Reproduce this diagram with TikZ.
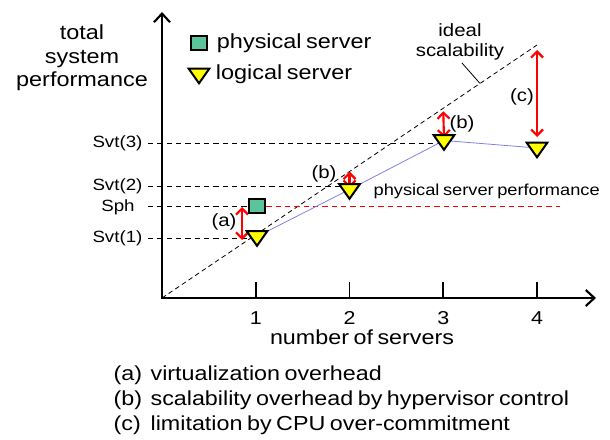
\documentclass[tikz,border=0pt]{standalone}
\usepackage{fontspec}
\setmainfont{Liberation Sans}[FakeStretch=1.15,WordSpace=0.7]
\usetikzlibrary{
  arrows.meta,
  positioning,
  calc,
  shapes.geometric
}
\definecolor{physgreen}{RGB}{92,196,154}
\definecolor{logyellow}{RGB}{255,255,0}
\definecolor{trendblue}{RGB}{128,128,232}
\definecolor{gapred}{RGB}{255,0,0}

\begin{document}
\begin{tikzpicture}[x=0.75pt,y=-0.75pt,
  axis/.style={line width=1.6pt,{Straight Barb[length=6.5pt,width=12pt]}-{Straight Barb[length=6.5pt,width=12pt]}},
  tick/.style={line width=1.4pt},
  level/.style={black,line width=0.6pt,dash pattern=on 4pt off 3pt},
  ideal/.style={black,line width=0.6pt,dash pattern=on 3.5pt off 2.5pt},
  physline/.style={gapred,line width=0.6pt,dash pattern=on 4pt off 3pt},
  trend/.style={trendblue,line width=0.6pt},
  gap/.style={gapred,line width=1.6pt,{Straight Barb[length=4.5pt,width=9pt]}-{Straight Barb[length=4.5pt,width=9pt]}},
  phys/.style={rectangle,draw,line width=1.5pt,fill=physgreen,minimum width=12pt,minimum height=10.5pt,inner sep=0pt},
  logi/.style={isosceles triangle,isosceles triangle stretches,shape border rotate=270,draw,line width=1.5pt,
    fill=logyellow,minimum width=15.5pt,minimum height=11pt,inner sep=0pt},
  biglab/.style={inner sep=1pt,font=\fontsize{15.3}{17.6}\selectfont},
  leglab/.style={inner sep=1pt,font=\fontsize{15.3}{18}\selectfont},
  lab/.style={inner sep=1pt,font=\fontsize{15.2}{18}\selectfont},
  ticklab/.style={inner sep=1pt,font=\fontsize{14}{16}\selectfont},
  svtlab/.style={inner sep=1pt,font=\fontsize{12.2}{14}\selectfont},
  note/.style={inner sep=1pt,font=\fontsize{11.9}{14}\selectfont},
  gaplab/.style={inner sep=1pt,font=\fontsize{13.3}{15}\selectfont},
]
\useasboundingbox (0,0) rectangle (610,439);

% ---- axes ----
\coordinate (O) at (162,298);
\coordinate (ytip) at (162,12);
\coordinate (xtip) at (596,298);
\draw[axis] (ytip) -- (O) -- (xtip);
\foreach \i/\x in {1/255.75,2/349.5,3/443.25,4/537}{
  \coordinate (t\i) at (\x,298);
  \draw[tick] (t\i) -- ++(0,-16);
  \node[ticklab] (n\i) at (\x,318) {\i};
}
\node[lab] (xlab) at (362,337) {number of servers};
\node[biglab,align=center] (ylab) at (82,58) {total\\system\\performance};

% ---- ideal scalability ----
\coordinate (I) at (537,45);
\draw[ideal] (O) -- (I) coordinate[pos=.5] (i2) coordinate[pos=.75] (i3) coordinate[pos=.848] (i4);
\node[gaplab,align=center,font=\fontsize{13.3}{15}\selectfont] (idl) at (460,42) {ideal\\scalability};
\coordinate (lead) at (462,63);
\draw[line width=0.6pt] (lead) -- (i4);

% ---- data points ----
\coordinate (p1) at (257,236.5);
\coordinate (p2) at (349.5,189.5);
\coordinate (p3) at (444,140.5);
\coordinate (p4) at (537,148);
\coordinate (ps) at (257,206);
\coordinate (pend) at (560,206);

% level lines
\node[svtlab,anchor=east] (s3) at (144,143) {Svt(3)};
\node[svtlab,anchor=east] (s2) at (144,186) {Svt(2)};
\node[svtlab] (sph) at (118,207) {Sph};
\node[svtlab,anchor=east] (s1) at (144,238) {Svt(1)};
\draw[level] ($(s3.east)+(4,0)$) -- (s3.east -| p3);
\draw[level] ($(s2.east)+(4,0)$) -- (s2.east -| p2);
\draw[level] ($(s3.east |- ps)+(4,0)$) -- (ps);
\draw[level] ($(s1.east)+(4,0)$) -- (s1.east -| p1);

% physical server performance
\draw[physline] (ps) -- (pend);
\node[note,anchor=west] (perf) at (372,191) {physical server performance};

% logical server trend
\draw[trend] (p1) -- (p2) -- (p3) -- (p4);

% overhead arrows
\draw[gap] ($(ps)+(-15,1)$) -- ($(p1)+(-15,3.5)$);
\draw[gap] (i2) -- ($(p2)+(0,-1.5)$);
\draw[gap] ($(i3)+(0,3)$) -- ($(p3)+(0,-3)$);
\draw[gap] ($(I)+(0,5)$) -- ($(p4)+(0,-11)$);
\node[gaplab] (ga) at (224,222) {(a)};
\node[gaplab] (gb1) at (324,174) {(b)};
\node[gaplab] (gb2) at (462,124) {(b)};
\node[gaplab] (gc) at (522,97) {(c)};

% markers
\node[phys] (sq) at (ps) {};
\foreach \i in {1,...,4}{
  \node[logi] (T\i) at (p\i) {};
}

% ---- legend ----
\node[phys] (legsq) at (199,43) {};
\node[logi] (legtri) at (199,74) {};
\node[leglab,right=5.5pt of legsq] (legphys) {physical server};
\node[leglab,right=5.5pt of legtri] (leglog) {logical server};

% ---- notes ----
\foreach \k/\t/\y in {a/virtualization overhead/380,b/scalability overhead by hypervisor control/405,c/limitation by CPU over-commitment/430}{
  \node[lab,anchor=base west] (k\k) at (112,\y) {(\k)};
  \node[lab,anchor=base west] (d\k) at (149,\y) {\t};
}
\end{tikzpicture}
\end{document}
